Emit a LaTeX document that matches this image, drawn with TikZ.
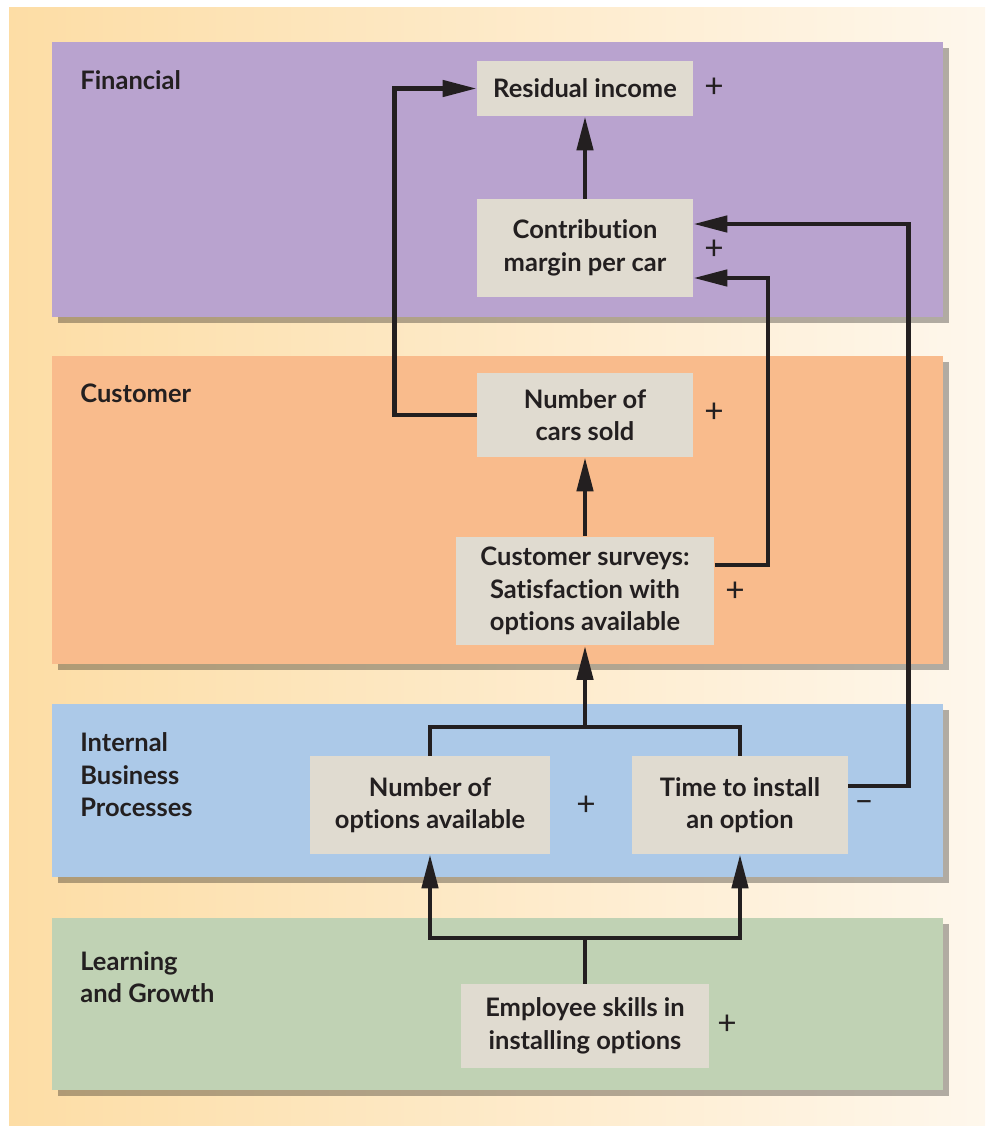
\documentclass[tikz,border=0pt]{standalone}
\usepackage{fontspec}
\setmainfont{Lato}[Ligatures=NoCommon]
\usetikzlibrary{arrows.meta,shadows}

\definecolor{ink}{HTML}{231F20}
\definecolor{boxcol}{HTML}{E0DBD0}
\definecolor{fincol}{HTML}{B9A3CF}
\definecolor{custcol}{HTML}{F9BB8C}
\definecolor{ibpcol}{HTML}{ACC9E8}
\definecolor{lgcol}{HTML}{C0D2B4}
\definecolor{bgleft}{HTML}{FDDDA5}
\definecolor{bgright}{HTML}{FEF7EC}

\begin{document}
\begin{tikzpicture}[x=0.02cm, y=-0.02cm,
    every node/.style={text=ink, font=\fontsize{14.5}{18.5}\selectfont},
    box/.style={fill=boxcol, align=center, inner sep=0pt,
        font=\bfseries\fontsize{14.5}{18.5}\selectfont},
    head/.style={anchor=west, align=left, inner sep=0pt,
        font=\bfseries\fontsize{14.5}{18.5}\selectfont},
    sign/.style={font=\fontsize{19}{20}\selectfont},
    panel/.style={drop shadow={shadow xshift=0.12cm, shadow yshift=-0.12cm,
        fill=black, opacity=0.3}},
    line/.style={draw=ink, line width=2.6pt},
    link/.style={line, -{Triangle[length=0.68cm, width=0.32cm]}}]

    % page and background
    \useasboundingbox[fill=white] (0,0) rectangle (985,1126);
    \shade[left color=bgleft, right color=bgright] (9,7) rectangle (985,1126);

    % the four perspectives
    \foreach \t/\b/\c in {42/317/fincol, 356/664/custcol,
                          704/877/ibpcol, 918/1090/lgcol} {
        \fill[panel, \c] (52,\t) rectangle (943,\b);
    }
    \node[head] (hfin)  at (80,80)  {Financial};
    \node[head] (hcust) at (80,393) {Customer};
    \node[head] (hibp)  at (80,775) {Internal\\Business\\Processes};
    \node[head] (hlg)   at (80,977) {Learning\\and Growth};

    % measures
    \node[box, minimum width=4.32cm, minimum height=1.1cm]  (resid)   at (585,88.5) {Residual income};
    \node[box, minimum width=4.32cm, minimum height=1.96cm] (contrib) at (585,248)  {Contribution\\margin per car};
    \node[box, minimum width=4.32cm, minimum height=1.68cm] (cars)    at (585,415)  {Number of\\cars sold};
    \node[box, minimum width=5.18cm, minimum height=2.18cm] (surv)    at (585,591)  {Customer surveys:\\Satisfaction with\\options available};
    \node[box, minimum width=4.8cm,  minimum height=1.96cm] (opts)    at (430,805)  {Number of\\options available};
    \node[box, minimum width=4.32cm, minimum height=1.96cm] (time)    at (740,805)  {Time to install\\an option};
    \node[box, minimum width=4.96cm, minimum height=1.68cm] (skills)  at (585,1026) {Employee skills in\\installing options};

    % signs
    \node[sign] (sresid)   at (714,88)   {+};
    \node[sign] (scontrib) at (714,250)  {+};
    \node[sign] (scars)    at (714,413)  {+};
    \node[sign] (ssurv)    at (735,592)  {+};
    \node[sign] (sopts)    at (586,806)  {+};
    \node[sign] (stime)    at (864,806)  {\textendash};
    \node[sign] (sskills)  at (727,1025) {+};

    % links
    \coordinate (jt) at (585,727);
    \coordinate (jb) at (585,938);
    \draw[link] (contrib.north) -- (resid.south);
    \draw[link] (cars.west) -- ++(-82,0) |- (resid.west);
    \draw[link] (surv.north) -- (cars.south);
    \draw[link] ([yshift=0.52cm]surv.east) -- ++(53,0) |- ([yshift=-0.6cm]contrib.east);
    \draw[link] ([yshift=0.38cm]time.east) -- ++(60,0) |- ([yshift=0.48cm]contrib.east);
    \draw[line] (opts.north) |- (jt) -| (time.north);
    \draw[link] (jt) -- (surv.south);
    \draw[line] (skills.north) -- (jb);
    \draw[link] (jb) -| (opts.south);
    \draw[link] (jb) -| (time.south);
\end{tikzpicture}
\end{document}
